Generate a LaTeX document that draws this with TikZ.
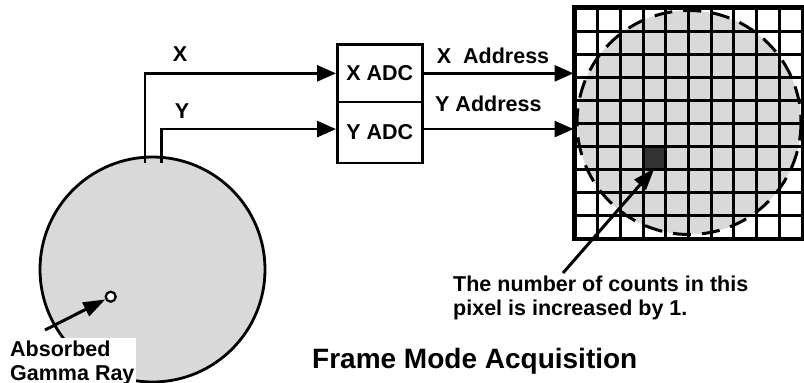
\documentclass[tikz,border=0pt]{standalone}
\usepackage{fontspec}
\setmainfont{Liberation Sans}
\usetikzlibrary{arrows.meta,calc}
\definecolor{disc}{gray}{0.85}
\definecolor{hit}{gray}{0.2}
\begin{document}
\begin{tikzpicture}[x=1pt,y=-1pt,
  lbl/.style={font=\bfseries\fontsize{21.5}{23.5}\selectfont, inner sep=0pt},
  wire/.style={line width=2.7pt},
  arr/.style={wire,-{Triangle[length=19pt,width=16pt]}},
  arrtwo/.style={line width=3pt,-{Triangle[length=22pt,width=15pt]}},
  adc/.style={draw,line width=2.7pt,minimum width=85pt,inner sep=0pt,fill=white,
    font=\bfseries\fontsize{21.5}{23.5}\selectfont},
  gridline/.style={line width=3pt}]
\useasboundingbox (0,0) rectangle (804,383);

% detector
\node[circle,draw,line width=2.8pt,fill=disc,minimum size=225pt,inner sep=0pt] (det) at (152.5,269.5) {};
\fill[white] (0,338) rectangle (136,383);
\node[lbl,anchor=base west] (absa) at (10,356.7) {Absorbed};
\node[lbl,anchor=base west] (absb) at (10,380) {Gamma Ray};
\node[circle,draw,line width=2.2pt,fill=white,minimum size=10pt,inner sep=0pt] (gamma) at (110.7,296.7) {};
\coordinate (gtail) at (45,330);
\draw[arrtwo] (gtail) -- (gamma);

% ADCs
\node[adc,minimum height=57.4pt,anchor=north west] (xadc) at (336,43.3) {X ADC};
\node[adc,minimum height=61pt,anchor=north west] (yadc) at (336,100.7) {Y ADC};

% wires
\coordinate (xs) at (145,163);
\coordinate (ys) at (161.7,163);
\draw[arr] (xs) |- (xadc.west);
\draw[arr] (ys) |- ([yshift=3.5pt]yadc.west);
\node[lbl,anchor=base] (xl) at (180,61.7) {X};
\node[lbl,anchor=base] (yl) at (182,118.3) {Y};

% image matrix
\node[draw,line width=3pt,minimum width=227pt,minimum height=230pt,inner sep=0pt,fill=white] (grid) at (688.5,123) {};
\fill[disc] (689,122.5) circle[radius=112];
\node[fill=hit,minimum width=21pt,minimum height=21pt,inner sep=0pt] (pix) at (654.5,157.5) {};
\draw[line width=3pt,dash pattern=on 18pt off 11pt] (689,122.5) circle[radius=112];
\foreach \i in {1,...,9} {
  \draw[gridline] (575+\i*22.7,8) -- (575+\i*22.7,238);
  \draw[gridline] (575,8+\i*23) -- (802,8+\i*23);
}
\draw[gridline] (grid.north west) rectangle (grid.south east);

% address lines
\draw[arr] (xadc.east) -- (xadc.east -| grid.west);
\draw[arr] ([yshift=3.5pt]yadc.east) -- ([yshift=3.5pt]yadc.east -| grid.west);
\node[lbl,anchor=base west] (xa) at (436.7,63.3) {X\ \ Address};
\node[lbl,anchor=base west] (ya) at (435,111.7) {Y Address};

% annotation
\node[lbl,anchor=base west] (notea) at (453,291.7) {The number of counts in this};
\node[lbl,anchor=base west] (noteb) at (453,315) {pixel is increased by 1.};
\coordinate (ntail) at (563,273);
\draw[arrtwo] (ntail) -- (pix.south);

% title
\node[font=\bfseries\fontsize{28}{30}\selectfont,anchor=base west,inner sep=0pt] (title) at (312,368) {Frame Mode Acquisition};
\end{tikzpicture}
\end{document}
